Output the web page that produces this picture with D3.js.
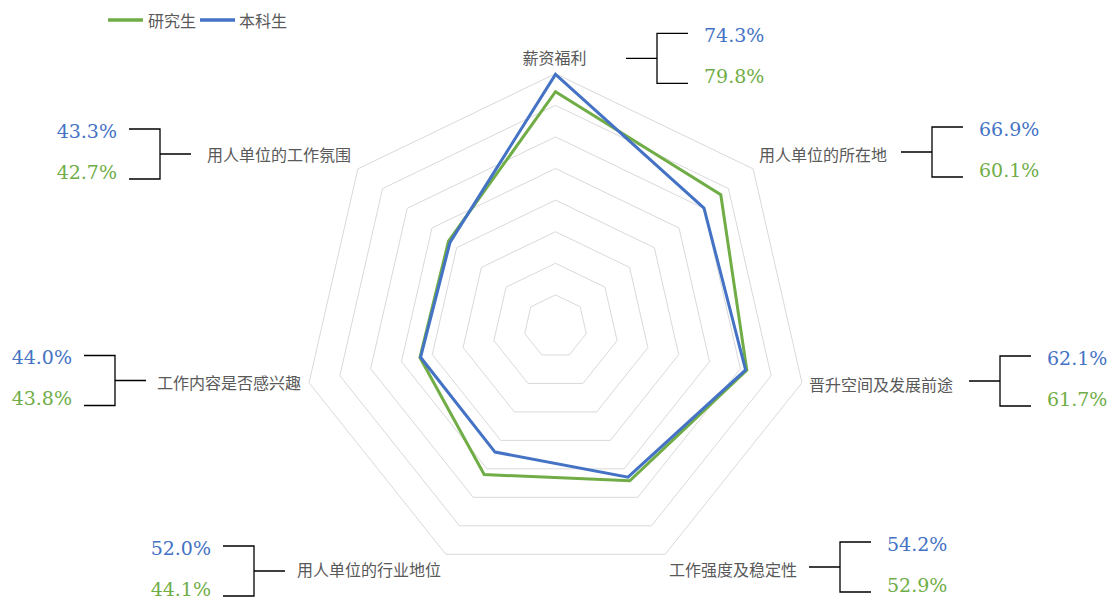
<!DOCTYPE html>
<html>
<head>
<meta charset="utf-8">
<script src="https://cdn.jsdelivr.net/npm/d3@7"></script>
<style>
  body { margin: 0; background: #fff; }
  .lab { font-family: "Noto Sans CJK SC", sans-serif; font-size: 16px; fill: #595959; }
</style>
</head>
<body>
<script>
// radar axes, clockwise from top
var categories = ["薪资福利", "用人单位的所在地", "晋升空间及发展前途", "工作强度及稳定性",
                  "用人单位的行业地位", "工作内容是否感兴趣", "用人单位的工作氛围"];
var seriesNames = ["研究生", "本科生"];
var graduate = [74.3, 66.9, 62.1, 54.2, 52.0, 44.0, 43.3];
var undergrad = [79.8, 60.1, 61.7, 52.9, 44.1, 43.8, 42.7];
var ringTicks = [10, 20, 30, 40, 50, 60, 70, 80];

var width = 1107, height = 602;
var cx = 555.5, cy = 326.5, R = 252.8;
var green = "#70AD47", blue = "#4472C4";

var svg = d3.select("body").append("svg")
    .attr("width", width)
    .attr("height", height);

var r = d3.scaleLinear().domain([0, 80]).range([0, R]);
var ang = d3.scalePoint().domain(d3.range(categories.length))
    .range([0, 2 * Math.PI * (categories.length - 1) / categories.length]);

function pt(i, v) {
    var a = ang(i);
    return [cx + r(v) * Math.sin(a), cy - r(v) * Math.cos(a)];
}

// grid rings
var g = svg.append("g");
ringTicks.forEach(function(t) {
    g.append("polygon")
        .attr("points", categories.map(function(c, i) { return pt(i, t).join(","); }).join(" "))
        .style("fill", "none")
        .style("stroke", "#D9D9D9")
        .style("stroke-width", 1);
});

var line = d3.line()
    .x(function(d, i) { return pt(i, d)[0]; })
    .y(function(d, i) { return pt(i, d)[1]; })
    .curve(d3.curveLinearClosed);

[[graduate, green], [undergrad, blue]].forEach(function(s) {
    svg.append("path")
        .datum(s[0])
        .attr("d", line)
        .style("fill", "none")
        .style("stroke", s[1])
        .style("stroke-width", 3)
        .style("stroke-linejoin", "miter");
});

// labels + bracket callouts
var layout = [
    {lx: 554.5, ly: 58, anchor: "middle", side: 1, bx: 626, by: 58.3},
    {lx: 887, ly: 155, anchor: "end", side: 1, bx: 901, by: 152},
    {lx: 953, ly: 385, anchor: "end", side: 1, bx: 969, by: 381},
    {lx: 797, ly: 570, anchor: "end", side: 1, bx: 809, by: 567},
    {lx: 297, ly: 570, anchor: "start", side: -1, bx: 285, by: 571},
    {lx: 157, ly: 383, anchor: "start", side: -1, bx: 146, by: 380.5},
    {lx: 207, ly: 155, anchor: "start", side: -1, bx: 191, by: 154}
];

categories.forEach(function(c, i) {
    var L = layout[i], s = L.side;
    svg.append("text")
        .attr("class", "lab")
        .attr("x", L.lx)
        .attr("y", L.ly)
        .attr("dy", "0.35em")
        .style("text-anchor", L.anchor)
        .text(c);

    var vx = L.bx + s * 31, ax = L.bx + s * 62;
    svg.append("path")
        .attr("d", "M" + L.bx + "," + L.by + "H" + vx +
                   "M" + ax + "," + (L.by - 25) + "H" + vx + "V" + (L.by + 25) + "H" + ax)
        .style("fill", "none")
        .style("stroke", "#000")
        .style("stroke-width", 1.3);

    var tx = L.bx + s * (s > 0 ? 78 : 74);
    [[graduate[i], L.by - 23, blue], [undergrad[i], L.by + 18, green]].forEach(function(v) {
        svg.append("text")
            .attr("x", tx)
            .attr("y", v[1])
            .attr("dy", "0.35em")
            .attr("font-family", "DejaVu Serif")
            .attr("font-size", 19)
            .attr("font-weight", 300)
            .attr("text-anchor", s > 0 ? "start" : "end")
            .attr("fill", v[2])
            .text(v[0].toFixed(1) + "%");
    });
});

// legend
var leg = svg.append("g");
[[green, 108, 148], [blue, 200, 239]].forEach(function(d, i) {
    leg.append("line")
        .attr("x1", d[1]).attr("x2", d[1] + 35)
        .attr("y1", 20).attr("y2", 20)
        .style("stroke", d[0])
        .style("stroke-width", 3.5);
    leg.append("text")
        .attr("class", "lab")
        .attr("x", d[2])
        .attr("y", 21)
        .attr("dy", "0.35em")
        .text(seriesNames[i]);
});
</script>
</body>
</html>
